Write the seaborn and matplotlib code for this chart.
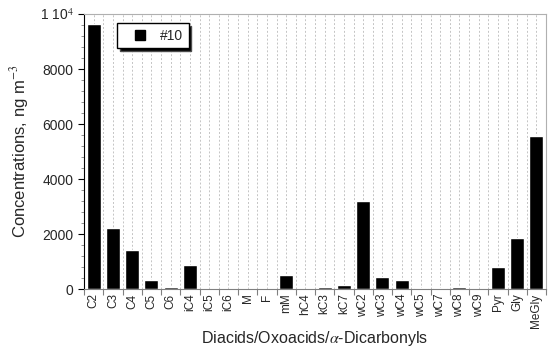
import numpy as np
import pandas as pd
import matplotlib
matplotlib.use("Agg")
import matplotlib.pyplot as plt
from matplotlib.lines import Line2D
from matplotlib.ticker import FixedLocator, MultipleLocator, FixedFormatter
import seaborn as sns

# Data
species = ["C2", "C3", "C4", "C5", "C6", "iC4", "iC5", "iC6", "M", "F", "mM",
           "hC4", "kC3", "kC7", "wC2", "wC3", "wC4", "wC5", "wC7", "wC8", "wC9",
           "Pyr", "Gly", "MeGly"]
conc = [9650, 2240, 1440, 350, 75, 895, 0, 15, 15, 10, 530,
        12, 70, 170, 3220, 460, 330, 55, 55, 95, 20,
        800, 1875, 5550]
y_ticks = [0, 2000, 4000, 6000, 8000, 10000]
y_labels = ["0", "2000", "4000", "6000", "8000", "1 10$^4$"]

df = pd.DataFrame({"species": species, "conc": conc})

sns.set_style("white")
plt.rcParams["font.family"] = ["Liberation Sans", "DejaVu Sans"]
plt.rcParams["mathtext.fontset"] = "stix"

fig = plt.figure(figsize=(5.51, 3.47), dpi=100)
ax = fig.add_axes([0.1525, 0.1663, 0.8385, 0.7934])

sns.barplot(data=df, x="species", y="conc", color="black", width=0.72,
            saturation=1, ax=ax)

n = len(species)
ax.set_xlim(-0.5, n - 0.5)
ax.set_ylim(0, 10000)

# y axis ticks
ax.yaxis.set_major_locator(FixedLocator(y_ticks))
ax.yaxis.set_major_formatter(FixedFormatter(y_labels))
ax.yaxis.set_minor_locator(MultipleLocator(400))
ax.tick_params(axis="y", which="major", left=True, length=4, width=0.8,
               labelsize=10, color="black")
ax.tick_params(axis="y", which="minor", left=True, length=2, width=0.6,
               color="gray")

# x axis: labels at centres, ticks at boundaries
ax.set_xticks(np.arange(n))
ax.set_xticklabels(species, rotation=90)
ax.xaxis.set_minor_locator(FixedLocator(np.arange(n + 1) - 0.5))
ax.tick_params(axis="x", which="major", bottom=False, length=0, labelsize=8.5, pad=3)
ax.tick_params(axis="x", which="minor", bottom=True, length=4, width=0.8, color="gray")

ax.grid(axis="x", which="both", linestyle=(0, (2, 2)), color="#c4c4c4", linewidth=0.7)
ax.set_axisbelow(True)

for side in ["top", "right"]:
    ax.spines[side].set_color("#b0b0b0")
    ax.spines[side].set_linewidth(0.8)
ax.spines["left"].set_color("black")
ax.spines["left"].set_linewidth(0.8)
ax.spines["bottom"].set_color("#808080")
ax.spines["bottom"].set_linewidth(0.8)

ax.set_xlabel("Diacids/Oxoacids/$\\alpha$-Dicarbonyls", fontsize=11.5, labelpad=1)
ax.set_ylabel("Concentrations, ng m$^{-3}$", fontsize=12, labelpad=6)

handle = Line2D([], [], linestyle="none", marker="s", markersize=7.5,
                color="black")
leg = ax.legend([handle], ["#10"], loc="upper left", bbox_to_anchor=(0.071, 0.967),
                frameon=True, fancybox=False,
                shadow={"facecolor": "black", "alpha": 1},
                edgecolor="black", fontsize=10, handlelength=2.5,
                borderpad=0.4, handletextpad=0.2, borderaxespad=0)
leg.get_frame().set_linewidth(1.0)

fig.savefig("out.png", dpi=100)
